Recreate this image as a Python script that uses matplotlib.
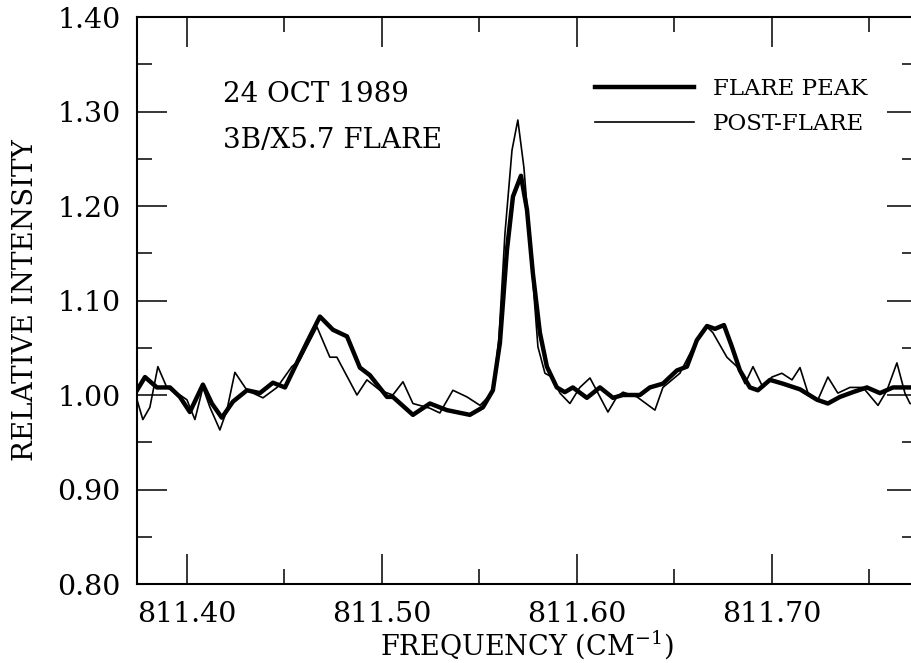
import numpy as np
import matplotlib
matplotlib.use("Agg")
import matplotlib.pyplot as plt
from matplotlib.ticker import MultipleLocator, FormatStrFormatter

plt.rcParams['font.family'] = ['DejaVu Serif']
plt.rcParams['mathtext.fontset'] = 'dejavuserif'

# flare peak spectrum (thick line)
peak_freq = [811.3744, 811.3785, 811.3846, 811.3913, 811.3964, 811.4015, 811.4082,
             811.4128, 811.4179, 811.4236, 811.4308, 811.4374, 811.4441, 811.4503,
             811.4564, 811.4621, 811.4682, 811.4749, 811.4821, 811.4887, 811.4938,
             811.5026, 811.5056, 811.5159, 811.5246, 811.5333, 811.5451, 811.5518,
             811.5569, 811.5605, 811.5641, 811.5672, 811.5713, 811.5744, 811.5774,
             811.5810, 811.5846, 811.5897, 811.5938, 811.5979, 811.6051, 811.6118,
             811.6185, 811.6236, 811.6323, 811.6374, 811.6441, 811.6513, 811.6564,
             811.6615, 811.6667, 811.6708, 811.6754, 811.6795, 811.6836, 811.6887,
             811.6928, 811.6990, 811.7056, 811.7144, 811.7231, 811.7287, 811.7349,
             811.7415, 811.7487, 811.7554, 811.7621, 811.7708, 811.7760]
peak_int = [1.005, 1.019, 1.008, 1.008, 0.998, 0.982, 1.011,
            0.991, 0.976, 0.993, 1.005, 1.002, 1.013, 1.008,
            1.034, 1.058, 1.083, 1.069, 1.062, 1.029, 1.021,
            0.998, 0.998, 0.979, 0.991, 0.984, 0.979, 0.987,
            1.005, 1.055, 1.153, 1.210, 1.232, 1.196, 1.129,
            1.066, 1.030, 1.008, 1.003, 1.008, 0.997, 1.008,
            0.997, 1.000, 1.000, 1.008, 1.012, 1.026, 1.030,
            1.058, 1.073, 1.070, 1.074, 1.051, 1.026, 1.008,
            1.005, 1.016, 1.012, 1.006, 0.995, 0.991, 0.998,
            1.003, 1.008, 1.002, 1.008, 1.008, 1.008]

# post-flare spectrum (thin line)
post_freq = [811.3744, 811.3774, 811.3810, 811.3851, 811.3897, 811.3964, 811.4000,
             811.4041, 811.4082, 811.4118, 811.4169, 811.4205, 811.4246, 811.4308,
             811.4390, 811.4462, 811.4538, 811.4579, 811.4667, 811.4733, 811.4769,
             811.4872, 811.4923, 811.4990, 811.5056, 811.5108, 811.5159, 811.5246,
             811.5297, 811.5364, 811.5436, 811.5503, 811.5569, 811.5600, 811.5631,
             811.5667, 811.5697, 811.5728, 811.5769, 811.5800, 811.5836, 811.5872,
             811.5913, 811.5964, 811.6015, 811.6067, 811.6108, 811.6159, 811.6205,
             811.6236, 811.6308, 811.6400, 811.6441, 811.6528, 811.6615, 811.6667,
             811.6697, 811.6769, 811.6821, 811.6862, 811.6903, 811.6954, 811.7000,
             811.7051, 811.7103, 811.7144, 811.7185, 811.7236, 811.7287, 811.7338,
             811.7400, 811.7467, 811.7544, 811.7590, 811.7641, 811.7682, 811.7708,
             811.7760]
post_int = [0.995, 0.974, 0.987, 1.030, 1.008, 1.000, 0.995,
            0.974, 1.008, 0.987, 0.963, 0.984, 1.024, 1.005,
            0.997, 1.008, 1.030, 1.037, 1.072, 1.040, 1.040,
            1.000, 1.016, 1.005, 1.000, 1.014, 0.991, 0.986,
            0.981, 1.005, 0.998, 0.989, 1.003, 1.060, 1.171,
            1.259, 1.291, 1.241, 1.135, 1.051, 1.023, 1.019,
            1.002, 0.991, 1.008, 1.018, 1.002, 0.982, 0.998,
            1.003, 0.998, 0.984, 1.008, 1.023, 1.058, 1.072,
            1.066, 1.040, 1.030, 1.012, 1.030, 1.008, 1.019,
            1.023, 1.016, 1.029, 1.002, 0.995, 1.019, 1.002,
            1.008, 1.008, 0.989, 1.005, 1.034, 1.002, 0.991,
            0.990]

x_ticks = [811.40, 811.50, 811.60, 811.70]
y_ticks = [0.80, 0.90, 1.00, 1.10, 1.20, 1.30, 1.40]

fig = plt.figure(figsize=(9.12, 6.63), dpi=100)
ax = fig.add_axes([137/912, 79/663, 780/912, 567/663])

ax.plot(peak_freq, peak_int, color='black', lw=3.2, solid_joinstyle='round',
        label='FLARE PEAK')
ax.plot(post_freq, post_int, color='black', lw=1.2, solid_joinstyle='round',
        label='POST-FLARE')

ax.set_xlim(811.3744, 811.7744)
ax.set_ylim(0.80, 1.40)
ax.set_xticks(x_ticks)
ax.set_yticks(y_ticks)
ax.xaxis.set_minor_locator(MultipleLocator(0.05))
ax.yaxis.set_minor_locator(MultipleLocator(0.05))
ax.xaxis.set_major_formatter(FormatStrFormatter('%.2f'))
ax.yaxis.set_major_formatter(FormatStrFormatter('%.2f'))

ax.tick_params(which='both', direction='in', top=True, right=True, width=1.1,
               labelsize=20.5, pad=12)
ax.tick_params(which='major', length=21.5)
ax.tick_params(which='minor', length=11)
for s in ax.spines.values():
    s.set_linewidth(1.5)
ax.spines['right'].set_visible(False)

ax.set_xlabel('FREQUENCY (CM$^{-1}$)', fontsize=19.5)
ax.xaxis.set_label_coords(0.5, -0.077)
ax.set_ylabel('RELATIVE INTENSITY', fontsize=20)
ax.yaxis.set_label_coords(-0.125, 0.5)

fig.text(223/912, 1 - 102/663, '24 OCT 1989', fontsize=20, va='baseline')
fig.text(223/912, 1 - 148/663, '3B/X5.7 FLARE', fontsize=20, va='baseline')

ax.legend(loc='upper left', bbox_to_anchor=(595/912, 1 - 78/663),
          bbox_transform=fig.transFigure, frameon=False, fontsize=16.5,
          handlelength=4.3, handletextpad=0.85, labelspacing=0.55,
          borderpad=0, borderaxespad=0)

fig.savefig('out.png', dpi=100)
